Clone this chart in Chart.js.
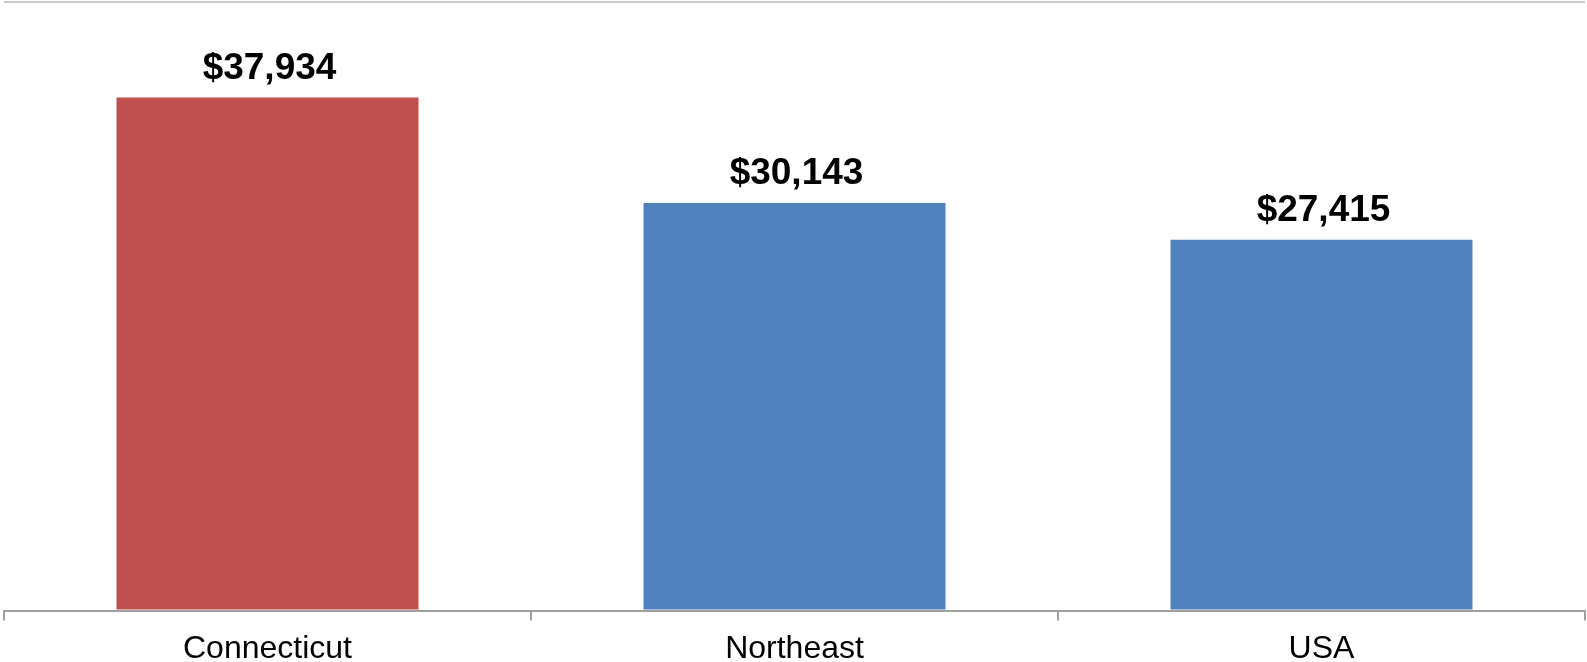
<!DOCTYPE html>
<html>
<head>
<meta charset="utf-8">
<script src="https://cdn.jsdelivr.net/npm/chart.js@4.4.1/dist/chart.umd.min.js"></script>
<style>
  html, body { margin: 0; padding: 0; background: #fff; }
  #wrap { width: 1587px; height: 662px; }
</style>
</head>
<body>
<div id="wrap"><canvas id="incomeChart" width="1587" height="662"></canvas></div>
<script>
// chart data
const regions = ["Connecticut", "Northeast", "USA"];
const incomeValues = [37934, 30143, 27415];
const barColors = ["#C0504D", "#4F81BD", "#4F81BD"];
const yMax = 45000;

// draws "$37,934" style labels above each bar
const valueLabels = {
  id: "valueLabels",
  afterDatasetsDraw(chart) {
    const ctx = chart.ctx;
    const meta = chart.getDatasetMeta(0);
    ctx.save();
    ctx.font = "bold 37px 'Liberation Sans', Arial, sans-serif";
    ctx.fillStyle = "#000";
    ctx.textAlign = "center";
    ctx.textBaseline = "alphabetic";
    meta.data.forEach((bar, i) => {
      const txt = "$" + incomeValues[i].toLocaleString("en-US");
      ctx.fillText(txt, bar.x + 2, bar.y - 19);
    });
    ctx.restore();
  }
};

const ctx = document.getElementById("incomeChart").getContext("2d");
new Chart(ctx, {
  type: "bar",
  data: {
    labels: regions,
    datasets: [{
      data: incomeValues,
      backgroundColor: barColors,
      borderWidth: 0,
      categoryPercentage: 1.0,
      barPercentage: 0.573
    }]
  },
  options: {
    responsive: false,
    animation: false,
    layout: { padding: { left: 4, right: 2, top: 2, bottom: -15 } },
    plugins: {
      legend: { display: false },
      tooltip: { enabled: false }
    },
    scales: {
      x: {
        grid: {
          offset: true,
          drawOnChartArea: false,
          drawTicks: true,
          tickLength: 10,
          color: "#a0a0a0",
          lineWidth: 2
        },
        border: { display: true, color: "#a0a0a0", width: 2 },
        ticks: {
          color: "#000",
          padding: 9,
          font: { family: "'Liberation Sans', Arial, sans-serif", size: 32 }
        }
      },
      y: {
        min: 0,
        max: yMax,
        ticks: { display: false, stepSize: yMax },
        border: { display: false },
        grid: {
          drawTicks: false,
          lineWidth: 2,
          color: (c) => c.tick && c.tick.value === yMax ? "#c8c8c8" : "rgba(0,0,0,0)"
        }
      }
    }
  },
  plugins: [valueLabels]
});
</script>
</body>
</html>
